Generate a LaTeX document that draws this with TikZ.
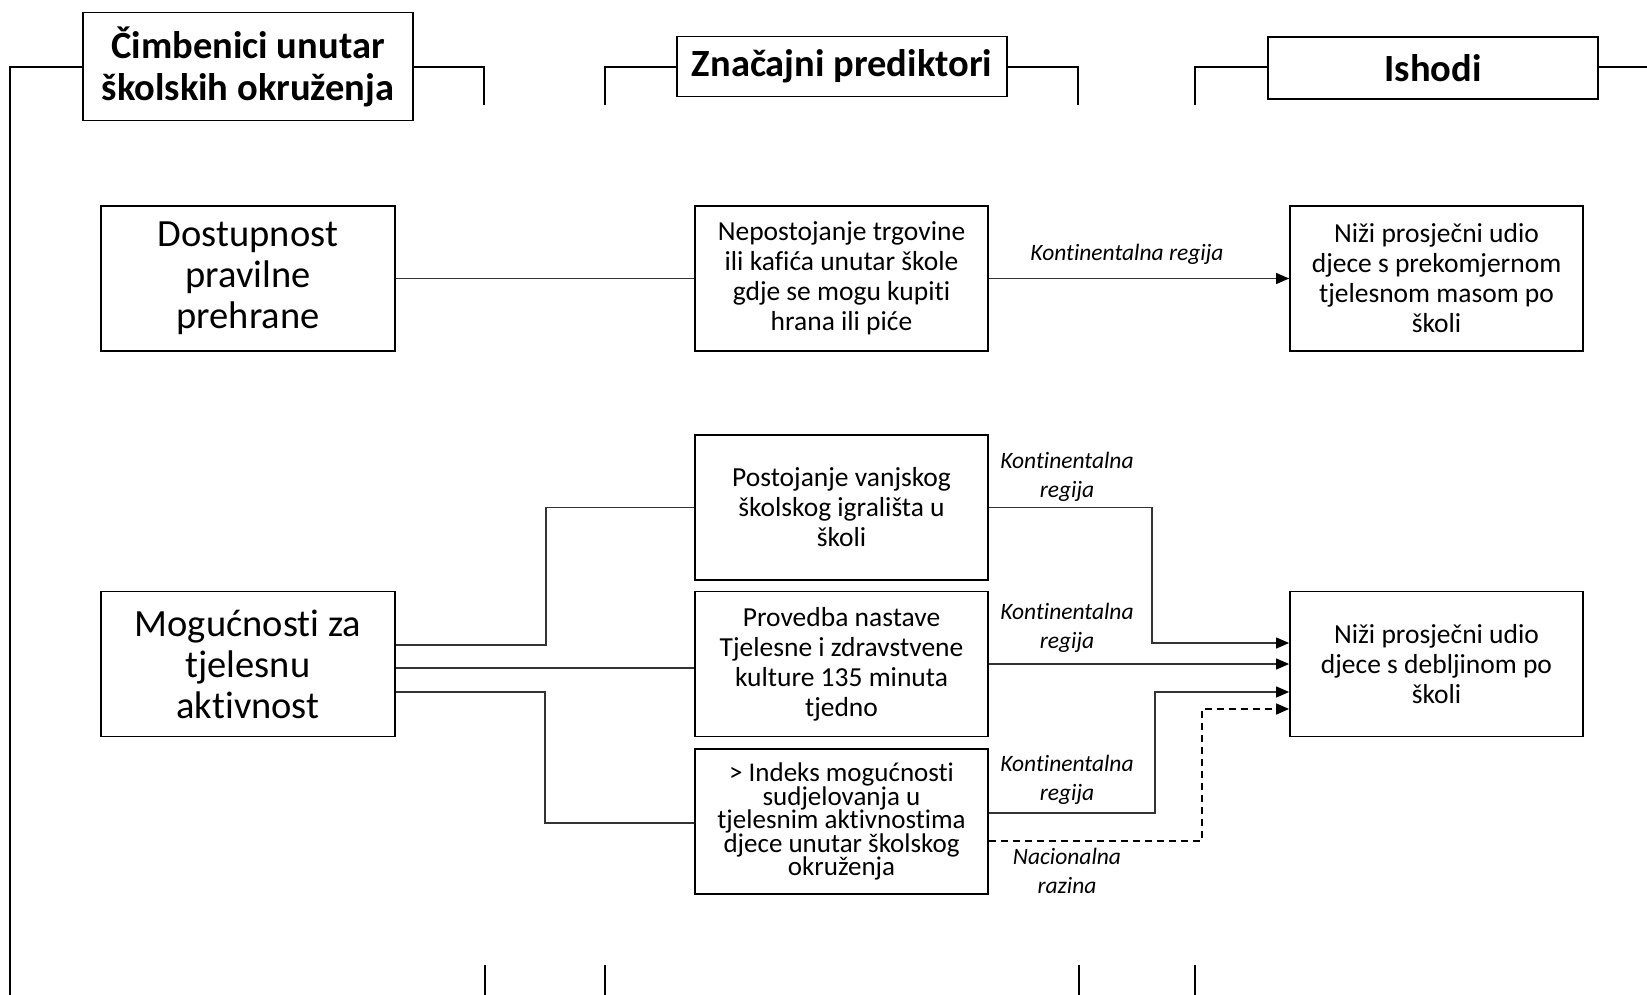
\documentclass[tikz,border=0pt]{standalone}
\usepackage{fontspec}
\setmainfont{Carlito}[Ligatures=NoCommon]
\usetikzlibrary{arrows.meta}
\begin{document}
\begin{tikzpicture}[x=1pt,y=-1pt,
  hdr/.style={draw,line width=1.8pt,inner sep=0pt,align=center,minimum width=330pt,
    font=\bfseries\fontsize{38.5}{42}\selectfont},
  bigbox/.style={draw,line width=1.8pt,inner sep=0pt,align=center,minimum width=294pt,minimum height=145pt,
    font=\fontsize{38.5}{41}\selectfont},
  box/.style={draw,line width=1.8pt,inner sep=0pt,align=center,minimum width=293pt,minimum height=145pt,
    font=\fontsize{27.5}{30}\selectfont},
  lbl/.style={align=center,inner sep=0pt,font=\itshape\fontsize{23.5}{29}\selectfont},
  brk/.style={line width=1.5pt},
  conn/.style={line width=1.2pt,draw=black!80},
  tip/.style={-{Triangle[length=13pt,width=11pt,color=black]}},
  arr/.style={conn,tip},
  dconn/.style={line width=1.6pt,dash pattern=on 7pt off 5pt,tip}
]
\useasboundingbox (0,0) rectangle (1647,995);

% header boxes
\node[hdr,minimum height=108pt] (h1) at (248,66.5) {Čimbenici unutar\\školskih okruženja};
\node[hdr,minimum height=60pt] (h2) at (842,66.5) {Značajni prediktori};
\node[hdr,minimum height=62pt] (h3) at (1433,68) {Ishodi};

% bracket coordinates
\coordinate (b1a) at (10,995);
\coordinate (b1b) at (10,67);
\coordinate (b1c) at (484,67);
\coordinate (b1d) at (484,105);
\coordinate (b2a) at (605,105);
\coordinate (b2b) at (605,67);
\coordinate (b2c) at (1078,67);
\coordinate (b2d) at (1078,105);
\coordinate (b3a) at (1195,105);
\coordinate (b3b) at (1195,67);
\coordinate (b3c) at (1647,67);

\draw[brk] (b1a) -- (b1b) -- (h1.west |- b1b);
\draw[brk] (h1.east |- b1c) -- (b1c) -- (b1d);
\draw[brk] (b2a) -- (b2b) -- (h2.west |- b2b);
\draw[brk] (h2.east |- b2c) -- (b2c) -- (b2d);
\draw[brk] (b3a) -- (b3b) -- (h3.west |- b3b);
\draw[brk] (h3.east |- b3c) -- (b3c);

% bottom ticks
\coordinate (t1a) at (485,965); \coordinate (t1b) at (485,995);
\coordinate (t2a) at (605,965); \coordinate (t2b) at (605,995);
\coordinate (t3a) at (1079,965); \coordinate (t3b) at (1079,995);
\coordinate (t4a) at (1195,965); \coordinate (t4b) at (1195,995);
\draw[brk] (t1a) -- (t1b);
\draw[brk] (t2a) -- (t2b);
\draw[brk] (t3a) -- (t3b);
\draw[brk] (t4a) -- (t4b);

% content boxes
\node[bigbox] (dost) at (248,278.5) {Dostupnost\\pravilne\\prehrane};
\node[bigbox] (mog) at (248,664) {Mogućnosti za\\tjelesnu\\aktivnost};

\node[box] (nep) at (841.5,278.5) {Nepostojanje trgovine\\ili kafića unutar škole\\gdje se mogu kupiti\\hrana ili piće};
\node[box] (post) at (841.5,507.5) {Postojanje vanjskog\\školskog igrališta u\\školi};
\node[box] (prov) at (841.5,664) {Provedba nastave\\Tjelesne i zdravstvene\\kulture 135 minuta\\tjedno};
\node[box,font=\fontsize{27}{23.5}\selectfont] (ind) at (841.5,821.5) {> Indeks mogućnosti\\sudjelovanja u\\tjelesnim aktivnostima\\djece unutar školskog\\okruženja};

\node[box] (n1) at (1436.5,278.5) {Niži prosječni udio\\djece s prekomjernom\\tjelesnom masom po\\školi};
\node[box] (n2) at (1436.5,664) {Niži prosječni udio\\djece s debljinom po\\školi};

% connectors
\draw[conn] (dost.east) -- (nep.west);
\draw[arr] (nep.east) -- (n1.west);

\coordinate (m1) at (546,645);
\coordinate (m2) at (545,692);
\draw[conn] (mog.east |- m1) -- (m1) |- (post.west);
\draw[conn] (mog.east |- 0,668) -- (prov.west |- 0,668);
\draw[conn] (mog.east |- m2) -- (m2) |- (ind.west |- 0,823);

\coordinate (p1) at (1152,643);
\draw[arr] (post.east) -| (p1) -- (n2.west |- p1);
\draw[arr] (prov.east |- 0,664) -- (n2.west |- 0,664);
\coordinate (i1) at (1155,813);
\coordinate (i2) at (1155,692);
\draw[arr] (ind.east |- i1) -- (i1) -- (i2) -- (n2.west |- i2);
\coordinate (d1) at (1202,841);
\coordinate (d2) at (1202,709);
\draw[dconn] (ind.east |- d1) -- (d1) -- (d2) -- (n2.west |- d2);

% labels
\node[lbl] (l0) at (1127,254) {Kontinentalna regija};
\node[lbl] (l1) at (1067,477) {Kontinentalna\\regija};
\node[lbl] (l2) at (1067,628) {Kontinentalna\\regija};
\node[lbl] (l3) at (1067,779.5) {Kontinentalna\\regija};
\node[lbl] (l4) at (1067,871) {Nacionalna\\razina};
\end{tikzpicture}
\end{document}
